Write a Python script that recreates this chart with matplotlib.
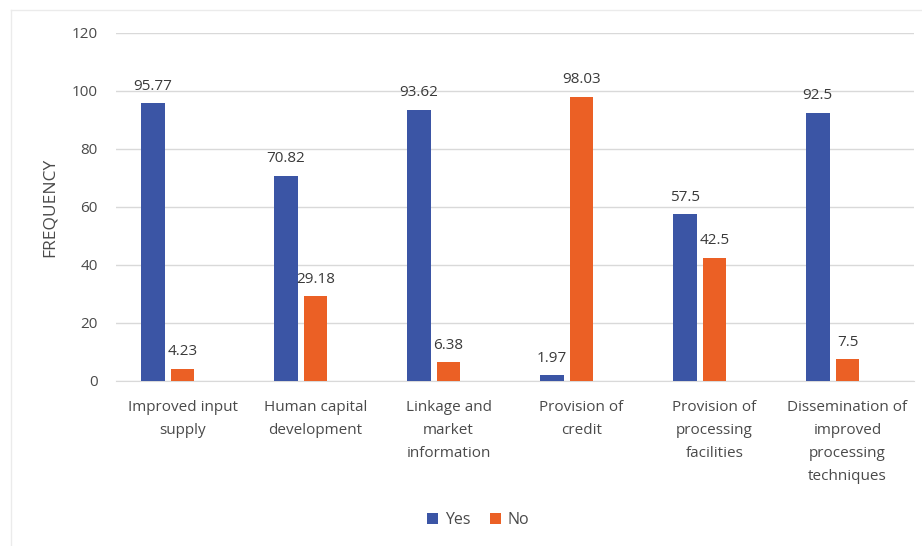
import matplotlib
matplotlib.use("Agg")
import matplotlib.pyplot as plt
import numpy as np
from matplotlib.lines import Line2D

plt.rcParams["font.family"] = ["Open Sans", "DejaVu Sans"]

categories = [
    "Improved input\nsupply",
    "Human capital\ndevelopment",
    "Linkage and\nmarket\ninformation",
    "Provision of\ncredit",
    "Provision of\nprocessing\nfacilities",
    "Dissemination of\nimproved\nprocessing\ntechniques",
]
yes_vals = [95.77, 70.82, 93.62, 1.97, 57.5, 92.5]
no_vals = [4.23, 29.18, 6.38, 98.03, 42.5, 7.5]
yticks = [0, 20, 40, 60, 80, 100, 120]

blue = "#3b55a5"
orange = "#eb6025"
text_c = "#4a4a4a"
grid_c = "#d9d9d9"

fig = plt.figure(figsize=(9.22, 5.46), dpi=100)
ax = fig.add_axes([116 / 922, 1 - 381 / 546, (914 - 116) / 922, 348 / 546])

x = np.arange(len(categories))
w = 0.18
b1 = ax.bar(x - 0.225, yes_vals, w, color=blue, label="Yes", zorder=3)
b2 = ax.bar(x, no_vals, w, color=orange, label="No", zorder=3)

for bars, vals in ((b1, yes_vals), (b2, no_vals)):
    for bar, v in zip(bars, vals):
        ax.annotate(f"{v:g}", (bar.get_x() + bar.get_width() / 2, v),
                    xytext=(0, 7), textcoords="offset points",
                    ha="center", va="bottom", fontsize=11, color="#3a3a3a")

ax.set_xlim(-0.5, len(categories) - 0.5)
ax.set_ylim(0, 120)
ax.set_yticks(yticks)
ax.set_xticks(x)
ax.set_xticklabels(categories, linespacing=1.7, va="top")
ax.tick_params(axis="both", length=0, labelsize=11, labelcolor=text_c)
ax.tick_params(axis="y", pad=13)
ax.tick_params(axis="x", pad=14)
ax.yaxis.grid(True, color=grid_c, linewidth=1, zorder=0)
for s in ("top", "right", "left"):
    ax.spines[s].set_visible(False)
ax.spines["bottom"].set_color(grid_c)
ax.set_ylabel("FREQUENCY", fontsize=12.5, color=text_c, labelpad=10)

fig.legend(handles=[b1, b2], labels=["Yes", "No"], loc="center",
           bbox_to_anchor=(478 / 922, 1 - 520 / 546), ncol=2, frameon=False,
           fontsize=11.5, handlelength=0.7, handleheight=0.7, handletextpad=0.4,
           columnspacing=1.2, labelcolor=text_c)

# faint chart-area border
fig.add_artist(Line2D([11 / 922, 11 / 922], [0, 1 - 10 / 546], color="#ebebeb", lw=1))
fig.add_artist(Line2D([11 / 922, 1], [1 - 10 / 546, 1 - 10 / 546], color="#ebebeb", lw=1))

fig.savefig("out.png", dpi=100)
